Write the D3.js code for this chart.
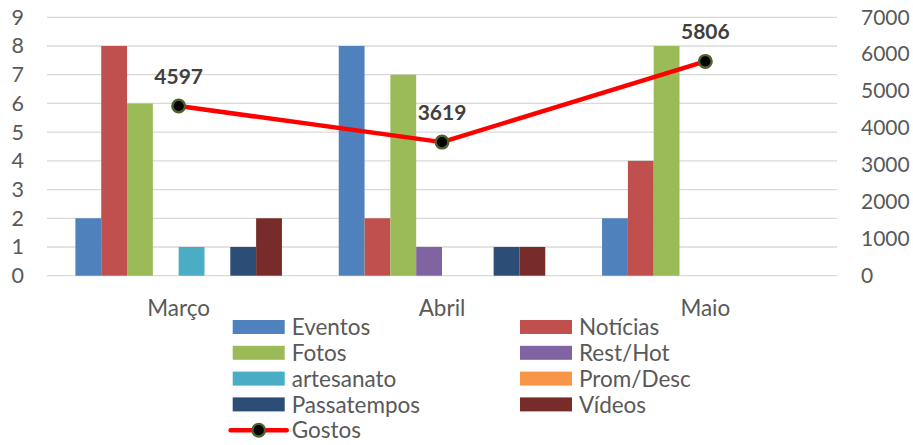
<!DOCTYPE html>
<html>
<head>
<meta charset="utf-8">
<script src="https://cdn.jsdelivr.net/npm/d3@7"></script>
<style>
  html, body { margin: 0; padding: 0; background: #fff; }
  svg { display: block; font-family: Lato, "Noto Sans", sans-serif; }
</style>
</head>
<body>
<svg id="chart" width="913" height="445"></svg>
<script>
// ---- data ----
const months = ["Março", "Abril", "Maio"];
const seriesNames = ["Eventos", "Notícias", "Fotos", "Rest/Hot", "artesanato", "Prom/Desc", "Passatempos", "Vídeos"];
const eventos     = [2, 8, 2];
const noticias    = [8, 2, 4];
const fotos       = [6, 7, 8];
const restHot     = [0, 1, 0];
const artesanato  = [1, 0, 0];
const promDesc    = [0, 0, 0];
const passatempos = [1, 1, 0];
const videos      = [2, 1, 0];
const gostos      = [4597, 3619, 5806];
const leftTicks   = [0, 1, 2, 3, 4, 5, 6, 7, 8, 9];
const rightTicks  = [0, 1000, 2000, 3000, 4000, 5000, 6000, 7000];
const lineName    = "Gostos";

const seriesValues = [eventos, noticias, fotos, restHot, artesanato, promDesc, passatempos, videos];
const colors = ["#4F81BD", "#C0504D", "#9BBB59", "#8064A2", "#4BACC6", "#F79646", "#2C4D75", "#772C2A"];

// ---- layout ----
const svg = d3.select("#chart");
const plot = { left: 47, right: 837, top: 17.3, bottom: 275.7 };

const x0 = d3.scaleBand().domain(months).range([plot.left, plot.right]).paddingInner(0).paddingOuter(0);
const x1 = d3.scaleBand().domain(seriesNames).range([0, x0.bandwidth()]).paddingInner(0).paddingOuter(1.1);
const yL = d3.scaleLinear().domain([0, 9]).range([plot.bottom, plot.top]);
const yR = d3.scaleLinear().domain([0, 7000]).range([plot.bottom, plot.top]);

// gridlines
svg.append("g").selectAll("line").data(leftTicks).join("line")
  .attr("x1", plot.left).attr("x2", plot.right)
  .attr("y1", d => yL(d)).attr("y2", d => yL(d))
  .attr("stroke", "#d9d9d9").attr("stroke-width", 1.3);

// left axis
const axL = svg.append("g").attr("transform", `translate(${plot.left},0)`)
  .call(d3.axisLeft(yL).tickValues(leftTicks).tickSize(0).tickPadding(23));
axL.select(".domain").remove();
axL.selectAll("text").attr("font-family", "Lato, sans-serif").attr("font-size", 21.5).attr("fill", "#595959");

// right axis
const axR = svg.append("g").attr("transform", `translate(${plot.right},0)`)
  .call(d3.axisRight(yR).tickValues(rightTicks).tickSize(0).tickPadding(24).tickFormat(d3.format("d")));
axR.select(".domain").remove();
axR.selectAll("text").attr("font-family", "Lato, sans-serif").attr("font-size", 21).attr("fill", "#595959");

// category axis labels
const axB = svg.append("g").attr("transform", `translate(0,${plot.bottom})`)
  .call(d3.axisBottom(x0).tickSize(0).tickPadding(24));
axB.select(".domain").remove();
axB.selectAll("text").attr("font-family", "Lato, sans-serif").attr("font-size", 22.5).attr("fill", "#595959");

// bars
const groups = svg.append("g").selectAll("g").data(months).join("g")
  .attr("transform", d => `translate(${x0(d)},0)`);
groups.selectAll("rect")
  .data((m, mi) => seriesNames.map((s, si) => ({ s, si, v: seriesValues[si][mi] })).filter(d => d.v > 0))
  .join("rect")
  .attr("x", d => x1(d.s))
  .attr("width", x1.bandwidth())
  .attr("y", d => yL(d.v))
  .attr("height", d => yL(0) - yL(d.v))
  .attr("fill", d => colors[d.si]);

// line
const pts = months.map((m, i) => ({ m, v: gostos[i] }));
const cx = d => x0(d.m) + x0.bandwidth() / 2;
svg.append("path").datum(pts)
  .attr("d", d3.line().x(cx).y(d => yR(d.v)))
  .attr("fill", "none").attr("stroke", "#FF0000").attr("stroke-width", 4.5)
  .attr("stroke-linejoin", "round");
svg.append("g").selectAll("circle").data(pts).join("circle")
  .attr("cx", cx).attr("cy", d => yR(d.v)).attr("r", 6.3)
  .attr("fill", "#000").attr("stroke", "#4F6228").attr("stroke-width", 2.4);
svg.append("g").selectAll("text").data(pts).join("text")
  .attr("x", cx).attr("y", d => yR(d.v) - 22)
  .attr("text-anchor", "middle")
  .attr("font-family", "Lato, sans-serif").attr("font-weight", "bold").attr("font-size", 21)
  .attr("fill", "#404040")
  .text(d => d.v);

// legend
const legendItems = seriesNames.map((s, i) => ({ name: s, color: colors[i], type: "bar" }))
  .concat([{ name: lineName, type: "line" }]);
const colX = [232.7, 520];
const rowY0 = 327, rowStep = 25.8;
const lg = svg.append("g").selectAll("g").data(legendItems).join("g")
  .attr("transform", (d, i) => `translate(${colX[i % 2]},${rowY0 + Math.floor(i / 2) * rowStep})`);
lg.filter(d => d.type === "bar").append("rect")
  .attr("x", 0).attr("y", -7).attr("width", 52).attr("height", 14)
  .attr("fill", d => d.color);
const lineLg = lg.filter(d => d.type === "line");
lineLg.append("line").attr("x1", -2).attr("x2", 54).attr("y1", 0).attr("y2", 0)
  .attr("stroke", "#FF0000").attr("stroke-width", 4.5).attr("stroke-linecap", "round");
lineLg.append("circle").attr("cx", 26).attr("cy", 0).attr("r", 6.3)
  .attr("fill", "#000").attr("stroke", "#4F6228").attr("stroke-width", 2.4);
lg.append("text")
  .attr("x", 59).attr("y", 0).attr("dy", "0.36em")
  .attr("font-family", "Lato, sans-serif").attr("font-size", 22.5).attr("fill", "#595959")
  .text(d => d.name);
</script>
</body>
</html>
